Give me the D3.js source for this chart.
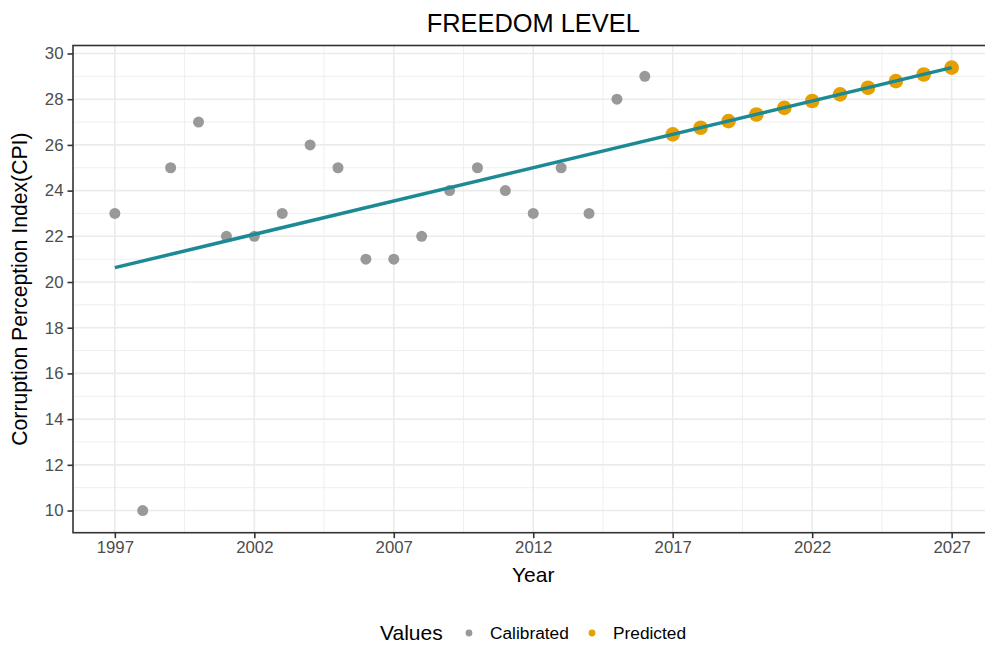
<!DOCTYPE html>
<html>
<head>
<meta charset="utf-8">
<script src="https://cdn.jsdelivr.net/npm/d3@7"></script>
<style>
  html, body { margin: 0; padding: 0; background: #ffffff; }
  svg { display: block; font-family: "Liberation Sans", Arial, Helvetica, sans-serif; }
</style>
</head>
<body>
<svg id="chart" width="985" height="646"></svg>
<script>
// Observed CPI scores (calibration period)
const calibratedYears = [1997, 1998, 1999, 2000, 2001, 2002, 2003, 2004, 2005, 2006,
                         2007, 2008, 2009, 2010, 2011, 2012, 2013, 2014, 2015, 2016];
const calibratedValues = [23, 10, 25, 27, 22, 22, 23, 26, 25, 21,
                          21, 22, 24, 25, 24, 23, 25, 23, 28, 29];

// Forecast CPI scores
const predictedYears = [2017, 2018, 2019, 2020, 2021, 2022, 2023, 2024, 2025, 2026, 2027];
const predictedValues = [26.46, 26.75, 27.04, 27.33, 27.62, 27.92, 28.21, 28.50, 28.79, 29.08, 29.38];

const xTicks = [1997, 2002, 2007, 2012, 2017, 2022, 2027];
const yTicks = [10, 12, 14, 16, 18, 20, 22, 24, 26, 28, 30];
const legendLabels = ["Calibrated", "Predicted"];

const colGray = "#999999";
const colOrange = "#E69F00";
const colLine = "#1B8A94";

const svg = d3.select("#chart");

const panel = { left: 73, right: 993.5, top: 45.5, bottom: 532.7 };

const x = d3.scaleLinear().domain([1995.5, 2028.5]).range([panel.left, panel.right]);
const y = d3.scaleLinear().domain([9.03, 30.35]).range([panel.bottom, panel.top]);

// Grid lines: minor first, then major
const xMinor = d3.range(1999.5, 2028.5, 5);
const yMinor = d3.range(11, 30.35, 2);
const grid = svg.append("g");
grid.selectAll(".xminor").data(xMinor).join("line")
  .attr("x1", d => x(d)).attr("x2", d => x(d))
  .attr("y1", panel.top).attr("y2", panel.bottom)
  .attr("stroke", "#EBEBEB").attr("stroke-width", 0.8);
grid.selectAll(".yminor").data(yMinor).join("line")
  .attr("x1", panel.left).attr("x2", panel.right)
  .attr("y1", d => y(d)).attr("y2", d => y(d))
  .attr("stroke", "#EBEBEB").attr("stroke-width", 0.8);
grid.selectAll(".xmajor").data(xTicks).join("line")
  .attr("x1", d => x(d)).attr("x2", d => x(d))
  .attr("y1", panel.top).attr("y2", panel.bottom)
  .attr("stroke", "#EBEBEB").attr("stroke-width", 1.6);
grid.selectAll(".ymajor").data(yTicks).join("line")
  .attr("x1", panel.left).attr("x2", panel.right)
  .attr("y1", d => y(d)).attr("y2", d => y(d))
  .attr("stroke", "#EBEBEB").attr("stroke-width", 1.6);

// Points
const calibrated = calibratedYears.map((yr, i) => ({ year: yr, value: calibratedValues[i] }));
const predicted = predictedYears.map((yr, i) => ({ year: yr, value: predictedValues[i] }));

svg.append("g").selectAll("circle").data(calibrated).join("circle")
  .attr("cx", d => x(d.year)).attr("cy", d => y(d.value))
  .attr("r", 5.5).attr("fill", colGray);

svg.append("g").selectAll("circle").data(predicted).join("circle")
  .attr("cx", d => x(d.year)).attr("cy", d => y(d.value))
  .attr("r", 7.3).attr("fill", colOrange);

// Least-squares trend fitted to the calibration period
const mx = d3.mean(calibratedYears), my = d3.mean(calibratedValues);
const sxy = d3.sum(calibratedYears, (v, i) => (v - mx) * (calibratedValues[i] - my));
const sxx = d3.sum(calibratedYears, v => (v - mx) * (v - mx));
const slope = sxy / sxx;
const trendYears = [calibratedYears[0], predictedYears[predictedYears.length - 1]];
const trend = trendYears.map(yr => ({ year: yr, value: my + slope * (yr - mx) }));

svg.append("path")
  .datum(trend)
  .attr("d", d3.line().x(d => x(d.year)).y(d => y(d.value)))
  .attr("fill", "none").attr("stroke", colLine).attr("stroke-width", 3.5);

// Panel border
svg.append("rect")
  .attr("x", panel.left).attr("y", panel.top)
  .attr("width", panel.right - panel.left).attr("height", panel.bottom - panel.top)
  .attr("fill", "none").attr("stroke", "#333333").attr("stroke-width", 1.6);

// Axes
const xAxis = svg.append("g")
  .attr("transform", `translate(0,${panel.bottom})`)
  .call(d3.axisBottom(x).tickValues(xTicks).tickFormat(d3.format("d")).tickSizeOuter(0).tickSize(5.5).tickPadding(3));
xAxis.select(".domain").remove();
xAxis.selectAll(".tick line").attr("stroke", "#333333").attr("stroke-width", 1.6);
xAxis.selectAll(".tick text").attr("fill", "#4D4D4D").attr("font-size", "16.8px")
  .attr("font-family", "Liberation Sans, Arial, sans-serif");

const yAxis = svg.append("g")
  .attr("transform", `translate(${panel.left},0)`)
  .call(d3.axisLeft(y).tickValues(yTicks).tickFormat(d3.format("d")).tickSizeOuter(0).tickSize(5.5).tickPadding(4));
yAxis.select(".domain").remove();
yAxis.selectAll(".tick line").attr("stroke", "#333333").attr("stroke-width", 1.6);
yAxis.selectAll(".tick text").attr("fill", "#4D4D4D").attr("font-size", "16.8px")
  .attr("font-family", "Liberation Sans, Arial, sans-serif");

const cx = (panel.left + panel.right) / 2;
const cy = (panel.top + panel.bottom) / 2;

// Titles
svg.append("text").attr("x", cx).attr("y", 32).attr("text-anchor", "middle")
  .attr("font-size", "25.4px").attr("fill", "#000").text("FREEDOM LEVEL");
svg.append("text").attr("x", cx).attr("y", 582).attr("text-anchor", "middle")
  .attr("font-size", "21px").attr("fill", "#000").text("Year");
svg.append("text").attr("transform", `translate(27,${cy}) rotate(-90)`)
  .attr("text-anchor", "middle").attr("font-size", "21.2px").attr("fill", "#000")
  .text("Corruption Perception Index(CPI)");

// Legend
const legend = svg.append("g");
legend.append("text").attr("x", 380).attr("y", 640).attr("font-size", "21px").attr("fill", "#000").text("Values");
const legendCols = [colGray, colOrange];
const legendX = [469, 592];
legendLabels.forEach((lab, i) => {
  legend.append("circle").attr("cx", legendX[i]).attr("cy", 633).attr("r", 3.4).attr("fill", legendCols[i]);
  legend.append("text").attr("x", legendX[i] + 21).attr("y", 639).attr("font-size", "17.3px")
    .attr("fill", "#000").text(lab);
});
</script>
</body>
</html>
